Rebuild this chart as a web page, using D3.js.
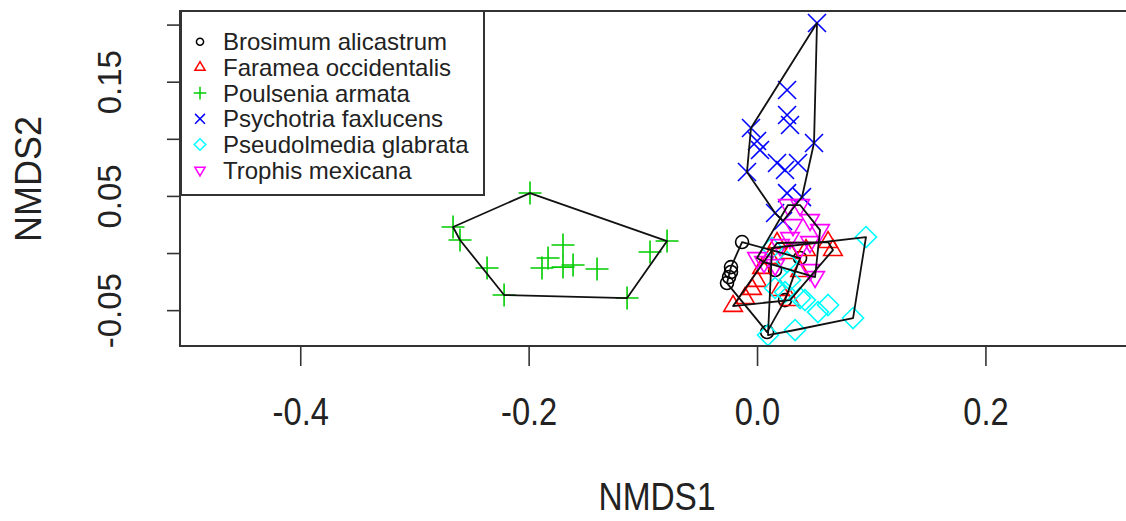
<!DOCTYPE html>
<html>
<head>
<meta charset="utf-8">
<script src="https://cdn.jsdelivr.net/npm/d3@7"></script>
<style>
  body { margin: 0; background: #fff; }
  text { font-family: "Liberation Sans", Arial, sans-serif; }
</style>
</head>
<body>
<div id="chart"></div>
<script>
// species names and colours (R default palette 1..6)
var species = ["Brosimum alicastrum", "Faramea occidentalis", "Poulsenia armata",
  "Psychotria faxlucens", "Pseudolmedia glabrata", "Trophis mexicana"];
var colours = ["#000000", "#FF0000", "#00CD00", "#0000FF", "#00FFFF", "#FF00FF"];
var shapes = ["circle", "triangle", "plus", "cross", "diamond", "triangleDown"];

// NMDS scores
var brosimumX = [-0.0131, -0.0228, -0.0228, -0.0245, -0.0263, 0.0088, 0.0158, 0.0377, 0.0245];
var brosimumY = [0.0096, -0.0123, -0.0166, -0.0210, -0.0263, -0.0692, -0.0149, -0.0044, -0.0412];

var farameaX = [-0.0210, -0.0105, -0.0044, 0.0000, 0.0044, 0.0175, 0.0289, 0.0429, 0.0622, 0.0665, 0.0377, 0.0289, 0.0114, 0.0201];
var farameaY = [-0.0464, -0.0394, -0.0315, -0.0245, -0.0131, 0.0088, 0.0000, 0.0026, 0.0096, 0.0026, -0.0158, -0.0412, -0.0044, -0.0324];

var poulseniaX = [-0.1988, -0.2662, -0.2601, -0.2364, -0.2215, -0.1138, -0.0788, -0.0937, -0.1699, -0.1830, -0.1883, -0.1699, -0.1611, -0.1401];
var poulseniaY = [0.0525, 0.0228, 0.0114, -0.0131, -0.0368, -0.0394, 0.0105, 0.0009, 0.0070, -0.0044, -0.0131, -0.0123, -0.0105, -0.0140];

var psychotriaX = [0.0525, 0.0263, 0.0263, 0.0289, -0.0053, 0.0000, 0.0026, 0.0499, -0.0088, 0.0175, 0.0359, 0.0245, 0.0263, 0.0394, 0.0158, 0.0228];
var psychotriaY = [0.2014, 0.1427, 0.1208, 0.1121, 0.1095, 0.0981, 0.0902, 0.0963, 0.0709, 0.0788, 0.0788, 0.0727, 0.0525, 0.0490, 0.0350, 0.0280];

var pseudolmediaX = [0.0954, 0.0841, 0.0622, 0.0534, 0.0333, 0.0096, 0.0245, 0.0289, 0.0377, 0.0263, 0.0420, 0.0158, 0.0131];
var pseudolmediaY = [0.0140, -0.0569, -0.0455, -0.0517, -0.0674, -0.0718, -0.0342, -0.0236, -0.0394, -0.0079, -0.0412, -0.0306, 0.0044];

var trophisX = [0.0271, 0.0377, 0.0315, 0.0464, 0.0552, 0.0464, 0.0201, 0.0000, 0.0061, 0.0377, 0.0464, 0.0508, 0.0289, 0.0158];
var trophisY = [0.0420, 0.0420, 0.0245, 0.0289, 0.0201, 0.0096, 0.0070, -0.0044, -0.0079, 0.0044, -0.0149, -0.0210, 0.0131, -0.0105];

var xTicks = [-0.4, -0.2, 0.0, 0.2];
var yTicks = [-0.05, 0.0, 0.05, 0.10, 0.15, 0.20];
var yLabelled = [-0.05, 0.05, 0.15];

var groupsX = [brosimumX, farameaX, poulseniaX, psychotriaX, pseudolmediaX, trophisX];
var groupsY = [brosimumY, farameaY, poulseniaY, psychotriaY, pseudolmediaY, trophisY];

function init() {
  var w = 1126;
  var h = 521;
  var left = 180, right = 1130, top = 11, bottom = 346;

  var xScale = d3.scaleLinear()
    .domain([-0.5053, 0.3266])
    .range([left, right]);
  var yScale = d3.scaleLinear()
    .domain([-0.0814, 0.2119])
    .range([bottom, top]);

  var svg = d3.select("#chart")
    .append("svg")
    .attr("width", w)
    .attr("height", h);

  // R pch glyphs, s = scale factor
  function symbol(shape, s) {
    var p = d3.path();
    if (shape == "circle") {
      var r = 6.5 * s;
      p.moveTo(r, 0);
      p.arc(0, 0, r, 0, 2 * Math.PI);
    } else if (shape == "triangle" || shape == "triangleDown") {
      var d = shape == "triangle" ? 1 : -1;
      p.moveTo(0, -10.5 * s * d);
      p.lineTo(9.3 * s, 5.4 * s * d);
      p.lineTo(-9.3 * s, 5.4 * s * d);
      p.closePath();
    } else if (shape == "plus") {
      var a = 11.5 * s;
      p.moveTo(-a, 0); p.lineTo(a, 0);
      p.moveTo(0, -a); p.lineTo(0, a);
    } else if (shape == "cross") {
      var c = 9 * s;
      p.moveTo(-c, -c); p.lineTo(c, c);
      p.moveTo(-c, c); p.lineTo(c, -c);
    } else if (shape == "diamond") {
      var m = 10.5 * s;
      p.moveTo(0, -m); p.lineTo(m, 0); p.lineTo(0, m); p.lineTo(-m, 0);
      p.closePath();
    }
    return p.toString();
  }

  var plot = svg.append("g");

  // points
  species.forEach(function(name, k) {
    var pts = groupsX[k].map(function(v, i) { return [v, groupsY[k][i]]; });
    plot.append("g")
      .selectAll("path")
      .data(pts)
      .enter()
      .append("path")
      .attr("transform", function(d) {
        return "translate(" + xScale(d[0]) + "," + yScale(d[1]) + ")";
      })
      .attr("d", symbol(shapes[k], 1))
      .attr("fill", "none")
      .attr("stroke", colours[k])
      .attr("stroke-width", 1.6);
  });

  // convex hulls (ordihull)
  species.forEach(function(name, k) {
    var pts = groupsX[k].map(function(v, i) { return [xScale(v), yScale(groupsY[k][i])]; });
    var hull = d3.polygonHull(pts);
    plot.append("path")
      .attr("d", "M" + hull.join("L") + "Z")
      .attr("fill", "none")
      .attr("stroke", "#111")
      .attr("stroke-width", 1.8)
      .attr("stroke-linejoin", "round");
  });

  // box
  svg.append("rect")
    .attr("x", left)
    .attr("y", top)
    .attr("width", right - left)
    .attr("height", bottom - top)
    .attr("fill", "none")
    .attr("stroke", "#333")
    .attr("stroke-width", 2);

  // x axis
  var xAxis = d3.axisBottom(xScale)
    .tickValues(xTicks)
    .tickSize(20)
    .tickPadding(32)
    .tickFormat(function(d) { return d.toFixed(1); });
  var gx = svg.append("g")
    .attr("transform", "translate(0," + bottom + ")")
    .call(xAxis);
  gx.select(".domain").remove();
  gx.selectAll("line").attr("stroke", "#333").attr("stroke-width", 1.6);
  gx.selectAll("text")
    .attr("fill", "#222")
    .attr("transform", "scale(0.86,1)")
    .style("font-size", "38px")
    .style("font-family", "Liberation Sans, Arial, sans-serif");

  // y axis
  var yAxis = d3.axisLeft(yScale)
    .tickValues(yTicks)
    .tickSize(13)
    .tickFormat(function(d) {
      return yLabelled.some(function(v) { return Math.abs(v - d) < 1e-9; }) ? d.toFixed(2) : "";
    });
  var gy = svg.append("g")
    .attr("transform", "translate(" + left + ",0)")
    .call(yAxis);
  gy.select(".domain").remove();
  gy.selectAll("line").attr("stroke", "#333").attr("stroke-width", 1.6);
  gy.selectAll("text")
    .attr("x", null)
    .attr("text-anchor", "middle")
    .attr("transform", "translate(-56,0) rotate(-90)")
    .attr("dy", "-0.1em")
    .attr("fill", "#222")
    .style("font-size", "33px")
    .style("font-family", "Liberation Sans, Arial, sans-serif");

  // axis titles
  svg.append("text")
    .attr("transform", "translate(657,510) scale(0.88,1)")
    .attr("text-anchor", "middle")
    .attr("fill", "#222")
    .style("font-size", "38px")
    .text("NMDS1");
  svg.append("text")
    .attr("transform", "translate(41,179) rotate(-90)")
    .attr("text-anchor", "middle")
    .attr("fill", "#222")
    .style("font-size", "36px")
    .text("NMDS2");

  // legend
  var lg = svg.append("g");
  lg.append("rect")
    .attr("x", left + 1)
    .attr("y", top)
    .attr("width", 303)
    .attr("height", 184)
    .attr("fill", "#fff")
    .attr("stroke", "#333")
    .attr("stroke-width", 2);
  species.forEach(function(name, k) {
    var yy = 41.7 + k * 25.7;
    lg.append("path")
      .attr("transform", "translate(200," + yy + ")")
      .attr("d", symbol(shapes[k], 0.55))
      .attr("fill", "none")
      .attr("stroke", colours[k])
      .attr("stroke-width", 1.5);
    lg.append("text")
      .attr("x", 223)
      .attr("y", yy)
      .attr("dy", "0.35em")
      .attr("fill", "#222")
      .style("font-size", "24px")
      .text(name);
  });
}

window.onload = init;
</script>
</body>
</html>
